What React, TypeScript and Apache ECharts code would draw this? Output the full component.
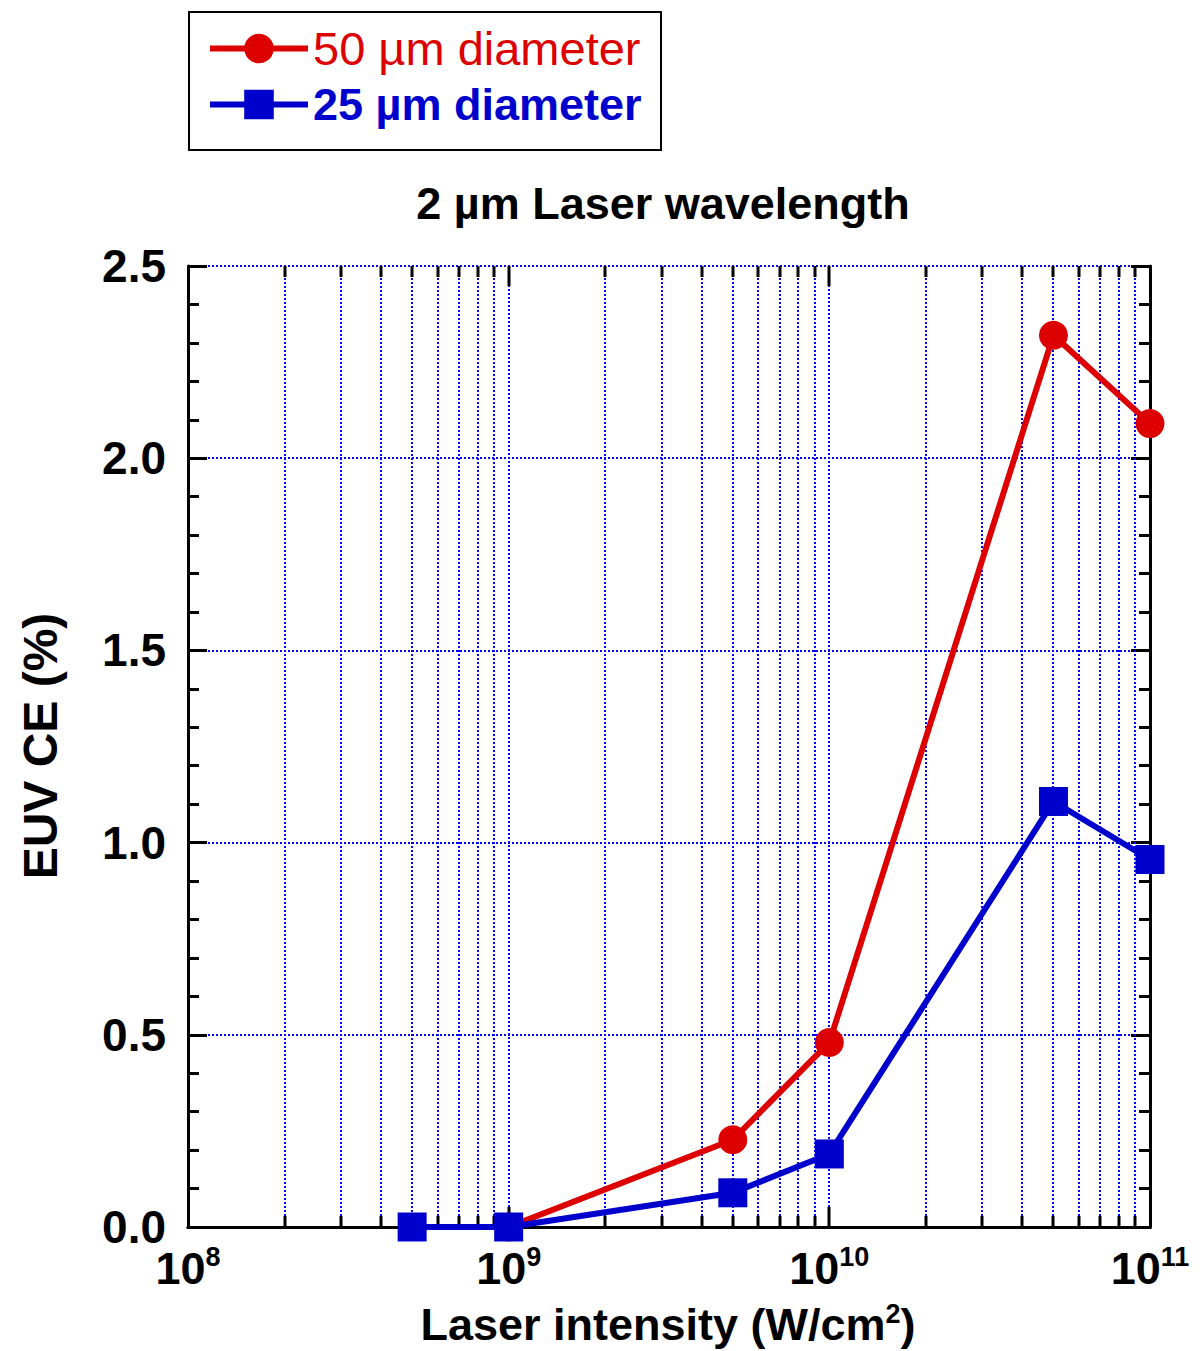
import React, { useEffect, useRef } from "react";
import * as echarts from "echarts";

const seriesNames = ["50 µm diameter", "25 µm diameter"];
const intensity50 = [1e9, 5e9, 1e10, 5e10, 1e11];
const ce50 = [0.0, 0.227, 0.48, 2.32, 2.09];
const intensity25 = [5e8, 1e9, 5e9, 1e10, 5e10, 1e11];
const ce25 = [0.0, 0.0, 0.089, 0.19, 1.107, 0.956];
const xDecades = [1e8, 1e9, 1e10, 1e11];
const xGridValues = [
  2e8, 3e8, 4e8, 5e8, 6e8, 7e8, 8e8, 9e8, 1e9,
  2e9, 3e9, 4e9, 5e9, 6e9, 7e9, 8e9, 9e9, 1e10,
  2e10, 3e10, 4e10, 5e10, 6e10, 7e10, 8e10, 9e10,
];
const yMin = 0;
const yMax = 2.5;
const yInterval = 0.5;

const RED = "#dd0000";
const BLUE = "#0000cc";
const GRID = "#0000ff";
const FONT = "Liberation Sans";

export default function App() {
  const ref = useRef<HTMLDivElement>(null);
  useEffect(() => {
    if (!ref.current) return;
    const chart = echarts.init(ref.current, undefined, { renderer: "svg" });
    const isDecade = (v: number) => xDecades.some((d) => Math.abs(d - v) / d < 1e-6);
    const option: any = {
      animation: false,
      backgroundColor: "#fff",
      textStyle: { fontFamily: FONT },
      grid: { left: 188, right: 50, top: 266, bottom: 124 },
      legend: {
        orient: "vertical",
        left: 207,
        top: 25,
        padding: 0,
        itemWidth: 98,
        itemHeight: 37,
        itemGap: 10,
        lineStyle: { width: 6 },
        data: [
          { name: seriesNames[0], textStyle: { color: RED, fontSize: 47, lineHeight: 37, fontWeight: "normal", fontFamily: FONT } },
          { name: seriesNames[1], textStyle: { color: BLUE, fontSize: 45, lineHeight: 37, fontWeight: "bold", fontFamily: FONT } },
        ],
      },
      xAxis: [
        {
          type: "log",
          logBase: 10,
          min: 1e8,
          max: 1e11,
          position: "bottom",
          axisLine: { show: true, lineStyle: { color: "#000", width: 3 } },
          axisTick: { show: false },
          splitLine: { show: false },
          axisLabel: {
            margin: 16,
            formatter: (v: number) => `{b|10}{s|${Math.round(Math.log10(v))}}`,
            rich: {
              b: { fontSize: 45, fontWeight: "bold", fontFamily: FONT, color: "#000", lineHeight: 48, verticalAlign: "bottom" },
              s: { fontSize: 27, fontWeight: "bold", fontFamily: FONT, color: "#000", lineHeight: 48, verticalAlign: "top" },
            },
          },
        },
        {
          type: "log",
          logBase: 10,
          min: 1e8,
          max: 1e11,
          position: "top",
          axisLine: { show: true, lineStyle: { color: "#000", width: 3 } },
          axisTick: { show: false },
          axisLabel: { show: false },
          splitLine: { show: false },
        },
      ],
      yAxis: [
        {
          type: "value",
          min: yMin,
          max: yMax,
          interval: yInterval,
          position: "left",
          axisLine: { show: true, lineStyle: { color: "#000", width: 3 } },
          axisTick: { show: true, inside: true, length: 19, lineStyle: { color: "#000", width: 3 } },
          minorTick: { show: true, splitNumber: 5, length: 11, lineStyle: { color: "#000", width: 3 } },
          splitLine: { show: true, lineStyle: { color: GRID, width: 2, type: [2, 2] } },
          axisLabel: {
            margin: 22,
            fontSize: 46,
            fontWeight: "bold",
            fontFamily: FONT,
            color: "#000",
            formatter: (v: number) => v.toFixed(1),
          },
        },
        {
          type: "value",
          min: yMin,
          max: yMax,
          interval: yInterval,
          position: "right",
          axisLine: { show: true, lineStyle: { color: "#000", width: 3 } },
          axisTick: { show: true, inside: true, length: 19, lineStyle: { color: "#000", width: 3 } },
          minorTick: { show: true, splitNumber: 5, length: 11, lineStyle: { color: "#000", width: 3 } },
          splitLine: { show: false },
          axisLabel: { show: false },
        },
      ],
      graphic: [
        {
          type: "rect",
          shape: { x: 189, y: 12, width: 472, height: 138 },
          style: { fill: "none", stroke: "#000", lineWidth: 2 },
          z: 10,
        },
        {
          type: "text",
          x: 663,
          y: 203,
          style: {
            text: "2 µm Laser wavelength",
            font: `bold 45px "${FONT}"`,
            fill: "#000",
            align: "center",
            verticalAlign: "middle",
          },
        },
        {
          type: "text",
          x: 40,
          y: 746,
          rotation: Math.PI / 2,
          style: {
            text: "EUV CE (%)",
            font: `bold 48px "${FONT}"`,
            fill: "#000",
            align: "center",
            verticalAlign: "middle",
          },
        },
        {
          type: "text",
          x: 668,
          y: 1324,
          style: {
            text: "Laser intensity (W/cm{s|2})",
            font: `bold 45px "${FONT}"`,
            fill: "#000",
            align: "center",
            verticalAlign: "middle",
            rich: {
              s: { font: `bold 27px "${FONT}"`, fill: "#000", verticalAlign: "top", lineHeight: 48 },
            },
          },
        },
      ],
      series: [
        {
          type: "custom",
          xAxisIndex: 0,
          yAxisIndex: 0,
          z: 1,
          silent: true,
          clip: false,
          data: xGridValues.map((v) => [v, 0]),
          renderItem: (params: any, api: any) => {
            const v = api.value(0);
            const b = api.coord([v, yMin]);
            const t = api.coord([v, yMax]);
            const len = isDecade(v) ? 20 : 11;
            const x = Math.round(b[0]);
            return {
              type: "group",
              children: [
                {
                  type: "line",
                  shape: { x1: x, y1: b[1] - len, x2: x, y2: t[1] + len },
                  style: { stroke: GRID, lineWidth: 2, lineDash: [2, 2] },
                },
                {
                  type: "line",
                  shape: { x1: x, y1: b[1], x2: x, y2: b[1] - len },
                  style: { stroke: "#000", lineWidth: 3 },
                },
                {
                  type: "line",
                  shape: { x1: x, y1: t[1], x2: x, y2: t[1] + len },
                  style: { stroke: "#000", lineWidth: 3 },
                },
              ],
            };
          },
        },
        {
          name: seriesNames[0],
          type: "line",
          z: 3,
          clip: false,
          data: intensity50.map((x, i) => [x, ce50[i]]),
          symbol: "circle",
          symbolSize: 29,
          lineStyle: { color: RED, width: 6 },
          itemStyle: { color: RED },
        },
        {
          name: seriesNames[1],
          type: "line",
          z: 4,
          clip: false,
          data: intensity25.map((x, i) => [x, ce25[i]]),
          symbol: "rect",
          symbolSize: 29,
          lineStyle: { color: BLUE, width: 6 },
          itemStyle: { color: BLUE },
        },
      ],
    };
    chart.setOption(option);
    return () => chart.dispose();
  }, []);
  return (
    <div
      ref={ref}
      style={{ position: "absolute", left: 0, top: 0, width: 1200, height: 1351 }}
    />
  );
}
